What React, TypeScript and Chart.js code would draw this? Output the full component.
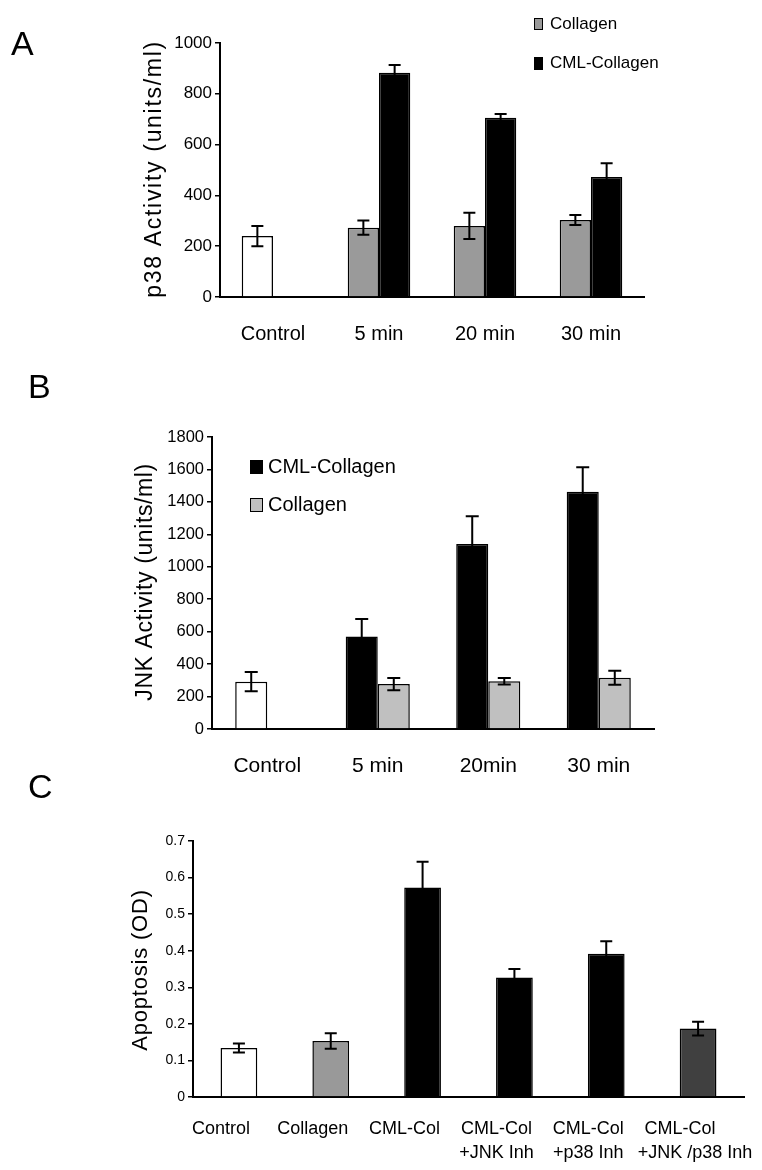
import React, { useEffect, useRef } from 'react';
import { Chart, registerables } from 'chart.js';

Chart.register(...registerables);

const FONT = "'Liberation Sans', Arial, Helvetica, sans-serif";

// ---------- Panel A: p38 activity ----------
const aCategories = ['Control', '5 min', '20 min', '30 min'];
const aCollagen = [240, 273, 280, 303]; // index 0 = Control (white bar)
const aCollagenErr = [40, 28, 52, 20];
const aCml = [null, 883, 706, 472];
const aCmlErr = [null, 30, 14, 55];
const aTickMax = 1000;
const aTickStep = 200;

// ---------- Panel B: JNK activity ----------
const bCategories = ['Control', '5 min', '20min', '30 min'];
const bCml = [292, 570, 1140, 1463]; // index 0 = Control (white bar)
const bCmlErr = [60, 108, 172, 150];
const bCollagen = [null, 277, 295, 316];
const bCollagenErr = [null, 38, 20, 43];
const bTickMax = 1800;
const bTickStep = 200;

// ---------- Panel C: apoptosis ----------
const cCategories = [
  ['Control'],
  ['Collagen'],
  ['CML-Col'],
  ['CML-Col', '+JNK Inh'],
  ['CML-Col', '+p38 Inh'],
  ['CML-Col', '      +JNK /p38 Inh'],
];
const cValues = [0.134, 0.153, 0.573, 0.327, 0.392, 0.187];
const cErr = [0.012, 0.021, 0.07, 0.023, 0.034, 0.019];
const cTickMax = 0.7;
const cTickStep = 0.1;

type LegendItem = { label: string; color: string; bx: number; by: number; bw: number; bh: number; tx: number; ty: number };
type Decor = {
  letter: string; letterX: number; letterY: number;
  title: string; titleX: number; titleY: number; titleSize: number; titleSpacing: number;
  legend: LegendItem[]; legendSize: number;
  errors: (number | null)[][]; cap: number;
};

function decorPlugin(d: Decor) {
  return {
    id: 'decor',
    afterDatasetsDraw(chart: any) {
      const ctx = chart.ctx;
      const y = chart.scales.y;
      ctx.save();
      ctx.strokeStyle = '#000';
      ctx.lineWidth = 2;
      d.errors.forEach((errs, di) => {
        const meta = chart.getDatasetMeta(di);
        const data = chart.data.datasets[di].data;
        errs.forEach((e, i) => {
          const v = data[i];
          if (e == null || v == null) return;
          const el = meta.data[i];
          const x = el.x;
          const yt = y.getPixelForValue(v + e);
          const yb = y.getPixelForValue(v - e);
          ctx.beginPath();
          ctx.moveTo(x, yt);
          ctx.lineTo(x, yb);
          ctx.moveTo(x - d.cap / 2, yt);
          ctx.lineTo(x + d.cap / 2, yt);
          ctx.moveTo(x - d.cap / 2, yb);
          ctx.lineTo(x + d.cap / 2, yb);
          ctx.stroke();
        });
      });
      ctx.restore();
    },
    afterDraw(chart: any) {
      const ctx = chart.ctx;
      ctx.save();
      ctx.fillStyle = '#000';
      // panel letter
      ctx.font = `34px ${FONT}`;
      ctx.textAlign = 'left';
      ctx.textBaseline = 'alphabetic';
      ctx.fillText(d.letter, d.letterX, d.letterY);
      // y-axis title
      ctx.save();
      ctx.translate(d.titleX, d.titleY);
      ctx.rotate(-Math.PI / 2);
      ctx.font = `${d.titleSize}px ${FONT}`;
      (ctx as any).letterSpacing = `${d.titleSpacing}px`;
      ctx.textAlign = 'center';
      ctx.textBaseline = 'middle';
      ctx.fillText(d.title, 0, 0);
      ctx.restore();
      // legend
      ctx.font = `${d.legendSize}px ${FONT}`;
      ctx.textAlign = 'left';
      ctx.textBaseline = 'middle';
      d.legend.forEach((it) => {
        ctx.fillStyle = it.color;
        ctx.fillRect(it.bx, it.by, it.bw, it.bh);
        ctx.strokeStyle = '#000';
        ctx.lineWidth = 1;
        ctx.strokeRect(it.bx + 0.5, it.by + 0.5, it.bw - 1, it.bh - 1);
        ctx.fillStyle = '#000';
        ctx.fillText(it.label, it.tx, it.ty);
      });
      ctx.restore();
    },
  };
}

function baseOptions(p: {
  yWidth: number; xHeight: number; top: number; right: number;
  max: number; step: number; yFont: number; xFont: number; xPad: number; xLine?: number; labelOffset?: number;
  fmt?: (v: number) => string;
}) {
  return {
    responsive: false,
    animation: false,
    devicePixelRatio: 1,
    layout: { padding: { left: 0, top: p.top, right: p.right, bottom: 0 } },
    plugins: { legend: { display: false }, tooltip: { enabled: false } },
    scales: {
      x: {
        type: 'category',
        afterFit: (s: any) => {
          s.height = p.xHeight;
          s.paddingLeft = 0;
          s.paddingRight = 0;
        },
        grid: { display: false },
        border: { display: true, color: '#000', width: 2 },
        ticks: {
          color: '#000',
          font: { family: FONT, size: p.xFont, lineHeight: p.xLine ? `${p.xLine}px` : 1.2 },
          padding: p.xPad,
          maxRotation: 0,
          minRotation: 0,
          autoSkip: false,
          labelOffset: p.labelOffset || 0,
        },
      },
      y: {
        min: 0,
        max: p.max,
        afterFit: (s: any) => {
          s.width = p.yWidth;
          s.paddingTop = 0;
          s.paddingBottom = 0;
        },
        grid: { display: true, drawOnChartArea: false, drawTicks: true, tickLength: 5, color: '#000', lineWidth: 1.5 },
        border: { display: true, color: '#000', width: 2 },
        ticks: {
          stepSize: p.step,
          color: '#000',
          font: { family: FONT, size: p.yFont },
          padding: 3,
          callback: p.fmt || ((v: number) => String(v)),
        },
      },
    },
  };
}

function useChart(ref: React.RefObject<HTMLCanvasElement>, make: (c: HTMLCanvasElement) => Chart) {
  useEffect(() => {
    if (!ref.current) return;
    const ch = make(ref.current);
    return () => ch.destroy();
  }, []);
}

export default function App() {
  const refA = useRef<HTMLCanvasElement>(null);
  const refB = useRef<HTMLCanvasElement>(null);
  const refC = useRef<HTMLCanvasElement>(null);

  useChart(refA, (c) =>
    new Chart(c, {
      type: 'bar',
      data: {
        labels: aCategories,
        datasets: [
          {
            label: 'Collagen',
            data: aCollagen,
            backgroundColor: aCollagen.map((_, i) => (i === 0 ? '#ffffff' : '#9a9a9a')),
            borderColor: '#000',
            borderWidth: 1.5,
            barPercentage: 1,
            categoryPercentage: 0.59,
          },
          {
            label: 'CML-Collagen',
            data: aCml,
            backgroundColor: '#000',
            borderColor: '#000',
            borderWidth: 1.5,
            barPercentage: 1,
            categoryPercentage: 0.59,
          },
        ],
      },
      options: baseOptions({ yWidth: 220, xHeight: 63, top: 43, right: 118, max: aTickMax, step: aTickStep, yFont: 17, xFont: 20, xPad: 17 }) as any,
      plugins: [
        decorPlugin({
          letter: 'A', letterX: 11, letterY: 55,
          title: 'p38 Activity (units/ml)', titleX: 155, titleY: 169, titleSize: 23, titleSpacing: 1.7,
          legendSize: 17,
          legend: [
            { label: 'Collagen', color: '#9a9a9a', bx: 534, by: 18, bw: 9, bh: 12, tx: 550, ty: 24 },
            { label: 'CML-Collagen', color: '#000', bx: 534, by: 57, bw: 9, bh: 13, tx: 550, ty: 63 },
          ],
          errors: [aCollagenErr, aCmlErr], cap: 12,
        }),
      ],
    })
  );

  useChart(refB, (c) =>
    new Chart(c, {
      type: 'bar',
      data: {
        labels: bCategories,
        datasets: [
          {
            label: 'CML-Collagen',
            data: bCml,
            backgroundColor: bCml.map((_, i) => (i === 0 ? '#ffffff' : '#000000')),
            borderColor: '#000',
            borderWidth: 1.5,
            barPercentage: 1,
            categoryPercentage: 0.58,
          },
          {
            label: 'Collagen',
            data: bCollagen,
            backgroundColor: '#c0c0c0',
            borderColor: '#000',
            borderWidth: 1.5,
            barPercentage: 1,
            categoryPercentage: 0.58,
          },
        ],
      },
      options: baseOptions({ yWidth: 212, xHeight: 61, top: 77, right: 108, max: bTickMax, step: bTickStep, yFont: 16.5, xFont: 21, xPad: 17 }) as any,
      plugins: [
        decorPlugin({
          letter: 'B', letterX: 28, letterY: 38,
          title: 'JNK Activity (units/ml)', titleX: 146, titleY: 222, titleSize: 23, titleSpacing: 0.6,
          legendSize: 20,
          legend: [
            { label: 'CML-Collagen', color: '#000', bx: 250, by: 100, bw: 13, bh: 14, tx: 268, ty: 107 },
            { label: 'Collagen', color: '#c0c0c0', bx: 250, by: 138, bw: 13, bh: 14, tx: 268, ty: 145 },
          ],
          errors: [bCmlErr, bCollagenErr], cap: 13,
        }),
      ],
    })
  );

  useChart(refC, (c) =>
    new Chart(c, {
      type: 'bar',
      data: {
        labels: cCategories as any,
        datasets: [
          {
            label: 'Apoptosis',
            data: cValues,
            backgroundColor: ['#ffffff', '#999999', '#000000', '#000000', '#000000', '#404040'],
            borderColor: '#000',
            borderWidth: 1.5,
            barPercentage: 0.4,
            categoryPercentage: 1,
          },
        ],
      },
      options: baseOptions({
        yWidth: 193, xHeight: 73, top: 81, right: 18, max: cTickMax, step: cTickStep, yFont: 14, xFont: 18, xPad: 12, xLine: 24, labelOffset: -18,
        fmt: (v: number) => String(Math.round(v * 10) / 10),
      }) as any,
      plugins: [
        decorPlugin({
          letter: 'C', letterX: 28, letterY: 38,
          title: 'Apoptosis (OD)', titleX: 141, titleY: 210, titleSize: 22, titleSpacing: 0.8,
          legendSize: 16,
          legend: [],
          errors: [cErr], cap: 12,
        }),
      ],
    })
  );

  const abs = (top: number, h: number): React.CSSProperties => ({ position: 'absolute', left: 0, top, width: 762, height: h });

  return (
    <div style={{ position: 'absolute', left: 0, top: 0, width: 762, height: 1170, background: '#fff' }}>
      <canvas ref={refA} width={762} height={360} style={abs(0, 360)} />
      <canvas ref={refB} width={762} height={430} style={abs(360, 430)} />
      <canvas ref={refC} width={762} height={410} style={abs(760, 410)} />
    </div>
  );
}
